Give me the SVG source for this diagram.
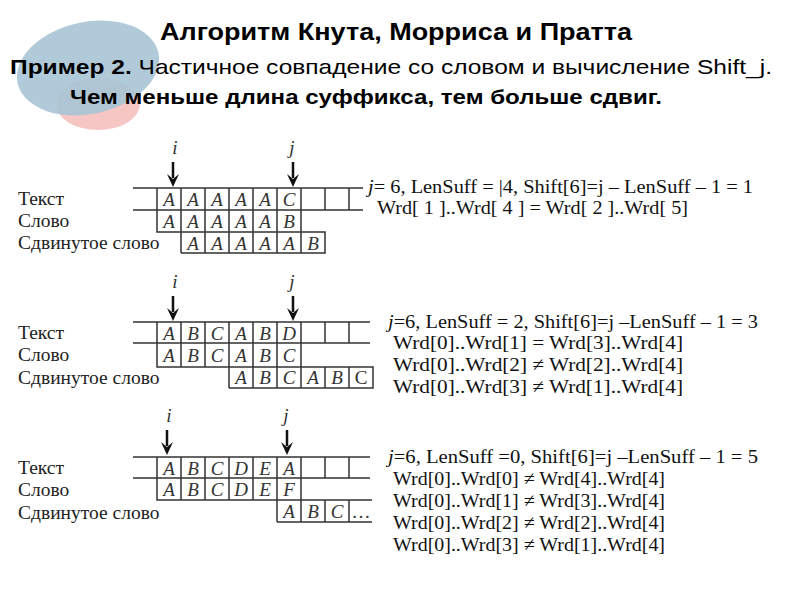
<svg xmlns="http://www.w3.org/2000/svg" width="794" height="595" viewBox="0 0 794 595">
<style>
.h{font-family:"Liberation Sans",Arial,sans-serif;fill:#000}
.lb{font-family:"Liberation Serif","Times New Roman",serif;font-size:19.5px;fill:#222}
.c{font-family:"Liberation Serif","Times New Roman",serif;font-size:19px;font-style:italic;fill:#333;text-anchor:middle}
.m{font-family:"Liberation Serif","Times New Roman",serif;font-size:19px;fill:#111}
.g{stroke:#333;stroke-width:1.5;fill:none}
.ar{stroke:#111;stroke-width:2.5}
.hd{fill:#111}
</style>
<rect width="794" height="595" fill="#fff"/>
<g id="deco">
<ellipse cx="98" cy="104" rx="42" ry="26" fill="#f2b8b4" opacity="0.8"/>
<ellipse cx="88" cy="68" rx="72" ry="46" transform="rotate(-12 88 68)" fill="#a9c4d6" opacity="0.9"/>
</g>
<g id="header">
<text class="h" x="160" y="40" font-size="24" font-weight="bold" textLength="472" lengthAdjust="spacingAndGlyphs">Алгоритм Кнута, Морриса и Пратта</text>
<text class="h" x="10" y="74" font-size="21" textLength="762" lengthAdjust="spacingAndGlyphs"><tspan font-weight="bold">Пример 2.</tspan> Частичное совпадение со словом и вычисление Shift_j.</text>
<text class="h" x="70" y="104" font-size="21" font-weight="bold" textLength="592" lengthAdjust="spacingAndGlyphs">Чем меньше длина суффикса, тем больше сдвиг.</text>
</g>
<g id="table1">
<text class="lb" x="18" y="205">Текст</text><text class="lb" x="18" y="227">Слово</text><text class="lb" x="18" y="249">Сдвинутое слово</text>
<path class="g" d="M133,188H363M133,210H363M157,188V232H301V188M181,188V253M205,188V253M229,188V253M253,188V253M277,188V253M301,188V253M325,188V210M349,188V210M181,232H325V253H181M325,232V253"/>
<g class="c"><text x="169" y="206">A</text><text x="193" y="206">A</text><text x="217" y="206">A</text><text x="241" y="206">A</text><text x="265" y="206">A</text><text x="289" y="206">C</text>
<text x="169" y="228">A</text><text x="193" y="228">A</text><text x="217" y="228">A</text><text x="241" y="228">A</text><text x="265" y="228">A</text><text x="289" y="228">B</text>
<text x="193" y="250">A</text><text x="217" y="250">A</text><text x="241" y="250">A</text><text x="265" y="250">A</text><text x="289" y="250">A</text><text x="313" y="250">B</text></g>
<text class="c" x="175" y="154">i</text><text class="c" x="292" y="154">j</text>
<line class="ar" x1="173" y1="162" x2="173" y2="178"/><path class="hd" d="M167,174L173,187L179,174L173,179Z"/>
<line class="ar" x1="293" y1="162" x2="293" y2="178"/><path class="hd" d="M287,174L293,187L299,174L293,179Z"/>
<text class="m" x="368" y="193" textLength="385" lengthAdjust="spacingAndGlyphs"><tspan font-style="italic">j</tspan>= 6, LenSuff = |4,  Shift[6]=j – LenSuff – 1 = 1</text>
<text class="m" x="377" y="214" textLength="311" lengthAdjust="spacingAndGlyphs">Wrd[ 1 ]..Wrd[ 4 ] = Wrd[ 2 ]..Wrd[ 5]</text>
</g>
<g id="table2">
<text class="lb" x="18" y="339">Текст</text><text class="lb" x="18" y="361">Слово</text><text class="lb" x="18" y="384">Сдвинутое слово</text>
<path class="g" d="M133,322H370M133,343H370M157,322V367H301V322M181,322V367M205,322V367M229,322V388M253,322V388M277,322V388M301,322V388M325,322V343M349,322V343M229,367H373V388H229M325,367V388M349,367V388"/>
<g class="c"><text x="169" y="340">A</text><text x="193" y="340">B</text><text x="217" y="340">C</text><text x="241" y="340">A</text><text x="265" y="340">B</text><text x="289" y="340">D</text>
<text x="169" y="362">A</text><text x="193" y="362">B</text><text x="217" y="362">C</text><text x="241" y="362">A</text><text x="265" y="362">B</text><text x="289" y="362">C</text>
<text x="241" y="384">A</text><text x="265" y="384">B</text><text x="289" y="384">C</text><text x="313" y="384">A</text><text x="337" y="384">B</text><text x="361" y="384" font-style="normal">C</text></g>
<text class="c" x="175" y="288">i</text><text class="c" x="292" y="288">j</text>
<line class="ar" x1="173" y1="296" x2="173" y2="312"/><path class="hd" d="M167,308L173,321L179,308L173,313Z"/>
<line class="ar" x1="293" y1="296" x2="293" y2="312"/><path class="hd" d="M287,308L293,321L299,308L293,313Z"/>
<text class="m" x="388" y="328" textLength="370" lengthAdjust="spacingAndGlyphs"><tspan font-style="italic">j</tspan>=6, LenSuff = 2, Shift[6]=j –LenSuff – 1 = 3</text>
<text class="m" x="393" y="349" textLength="290" lengthAdjust="spacingAndGlyphs">Wrd[0]..Wrd[1] = Wrd[3]..Wrd[4]</text>
<text class="m" x="393" y="371" textLength="290" lengthAdjust="spacingAndGlyphs">Wrd[0]..Wrd[2]  ≠  Wrd[2]..Wrd[4]</text>
<text class="m" x="393" y="393" textLength="290" lengthAdjust="spacingAndGlyphs">Wrd[0]..Wrd[3]  ≠  Wrd[1]..Wrd[4]</text>
</g>
<g id="table3">
<text class="lb" x="18" y="474">Текст</text><text class="lb" x="18" y="496">Слово</text><text class="lb" x="18" y="519">Сдвинутое слово</text>
<path class="g" d="M133,457H370M133,478H370M157,457V500H301V457M181,457V500M205,457V500M229,457V500M253,457V500M277,457V522M301,457V522M325,457V478M349,457V478M277,500H372M277,522H372M325,500V522M349,500V522"/>
<g class="c"><text x="169" y="475">A</text><text x="193" y="475">B</text><text x="217" y="475">C</text><text x="241" y="475">D</text><text x="265" y="475">E</text><text x="289" y="475">A</text>
<text x="169" y="496">A</text><text x="193" y="496">B</text><text x="217" y="496">C</text><text x="241" y="496">D</text><text x="265" y="496">E</text><text x="289" y="496">F</text>
<text x="289" y="518">A</text><text x="313" y="518">B</text><text x="337" y="518">C</text><text x="361" y="518" font-style="normal">…</text></g>
<text class="c" x="169" y="422">i</text><text class="c" x="286" y="422">j</text>
<line class="ar" x1="167" y1="430" x2="167" y2="446"/><path class="hd" d="M161,442L167,455L173,442L167,447Z"/>
<line class="ar" x1="287" y1="430" x2="287" y2="446"/><path class="hd" d="M281,442L287,455L293,442L287,447Z"/>
<text class="m" x="388" y="463" textLength="370" lengthAdjust="spacingAndGlyphs"><tspan font-style="italic">j</tspan>=6, LenSuff =0, Shift[6]=j –LenSuff – 1 = 5</text>
<text class="m" x="393" y="485" textLength="272" lengthAdjust="spacingAndGlyphs">Wrd[0]..Wrd[0]  ≠  Wrd[4]..Wrd[4]</text>
<text class="m" x="393" y="507" textLength="272" lengthAdjust="spacingAndGlyphs">Wrd[0]..Wrd[1]  ≠  Wrd[3]..Wrd[4]</text>
<text class="m" x="393" y="529" textLength="272" lengthAdjust="spacingAndGlyphs">Wrd[0]..Wrd[2]  ≠  Wrd[2]..Wrd[4]</text>
<text class="m" x="393" y="551" textLength="272" lengthAdjust="spacingAndGlyphs">Wrd[0]..Wrd[3]  ≠  Wrd[1]..Wrd[4]</text>
</g>
</svg>
